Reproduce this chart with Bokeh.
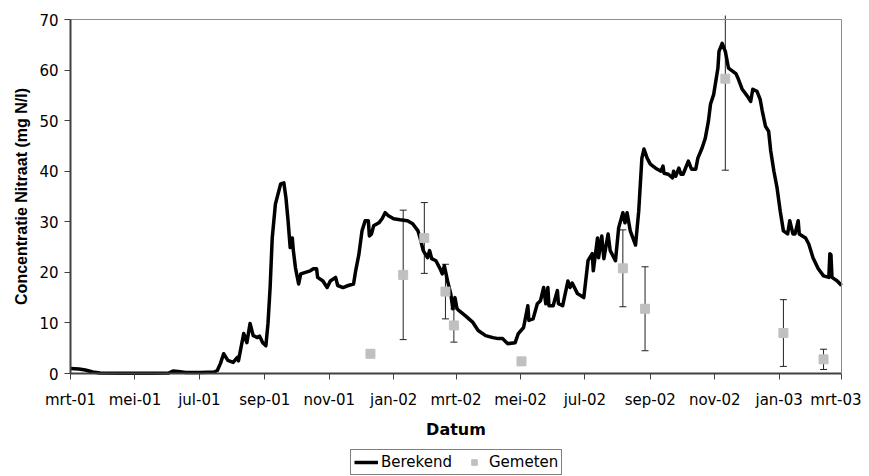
import pandas as pd
from bokeh.plotting import figure
from bokeh.models import (ColumnDataSource, FixedTicker, Whisker, TeeHead,
                          Legend, LegendItem, Range1d, LinearAxis)
from bokeh.embed import file_html
from bokeh.resources import INLINE

START = "2001-03-01"

# x-axis ticks
tick_dates = ["2001-03-01", "2001-05-01", "2001-07-01", "2001-09-01", "2001-11-01",
              "2002-01-01", "2002-03-01", "2002-05-01", "2002-07-01", "2002-09-01",
              "2002-11-01", "2003-01-01", "2003-03-01"]
tick_labels = ["mrt-01", "mei-01", "jul-01", "sep-01", "nov-01", "jan-02", "mrt-02",
               "mei-02", "jul-02", "sep-02", "nov-02", "jan-03", "mrt-03"]
y_ticks = [0, 10, 20, 30, 40, 50, 60, 70]
Y_MIN, Y_MAX = 0, 70

# Berekend (model): days since 1 March 2001 and concentration (mg N/l)
berekend_dag = [0, 8, 14, 21, 28, 47, 76, 93, 97, 102, 109, 123, 136, 139, 142, 145, 149,
                154, 158, 159, 164, 167, 170, 173, 177, 179, 182, 185, 187, 189, 191, 194,
                199, 202, 204, 206, 208, 210, 211, 213, 216, 218, 221, 227, 230, 233, 234,
                239, 243, 246, 251, 253, 258, 263, 268, 270, 273, 276, 279, 282, 283, 285,
                287, 292, 295, 298, 301, 306, 312, 319, 324, 329, 331, 334, 338, 340, 342,
                346, 350, 352, 354, 357, 360, 362, 364, 366, 367, 374, 381, 386, 393, 400,
                405, 409, 414, 421, 424, 429, 433, 434, 438, 442, 445, 448, 450, 452, 453,
                457, 461, 462, 466, 471, 473, 475, 480, 486, 490, 494, 495, 499, 500, 503,
                505, 509, 511, 516, 519, 523, 525, 527, 530, 535, 538, 541, 543, 546, 549,
                554, 559, 561, 562, 566, 570, 571, 573, 576, 578, 580, 585, 588, 592, 594,
                598, 601, 604, 606, 609, 613, 614, 617, 620, 623, 630, 632, 636, 641, 644,
                646, 650, 653, 655, 658, 661, 663, 666, 669, 672, 675, 679, 681, 684, 686,
                689, 690, 696, 699, 703, 708, 713, 718, 719, 720, 721, 726, 730]
berekend_val = [1.0, 0.9, 0.7, 0.3, 0.1, 0.05, 0.05, 0.1, 0.5, 0.4, 0.2, 0.2, 0.3, 0.6,
                2.0, 3.9, 2.6, 2.2, 3.2, 2.5, 7.9, 6.1, 9.9, 7.5, 7.1, 7.4, 6.1, 5.5, 9.9,
                17.0, 26.8, 33.5, 37.5, 37.7, 34.7, 30.2, 24.9, 26.8, 24.3, 20.9, 17.7, 19.7,
                19.9, 20.3, 20.7, 20.7, 19.0, 18.3, 17.0, 18.3, 19.0, 17.4, 17.0, 17.4, 17.7,
                20.3, 23.5, 28.2, 30.2, 30.2, 27.2, 27.6, 29.2, 29.8, 30.6, 31.8, 31.2, 30.6,
                30.4, 30.2, 29.6, 28.2, 26.8, 24.3, 22.9, 24.3, 22.7, 22.3, 20.7, 19.7, 21.3,
                18.3, 15.8, 12.8, 15.0, 12.8, 12.6, 11.4, 10.1, 8.5, 7.5, 7.1, 6.9, 6.9, 5.9,
                6.1, 7.9, 9.1, 13.4, 10.5, 10.8, 13.8, 14.4, 17.0, 13.8, 17.0, 13.4, 13.4,
                16.4, 13.8, 13.4, 18.3, 17.0, 17.9, 15.8, 15.0, 22.3, 23.7, 20.3, 26.8, 22.9,
                27.2, 22.7, 27.6, 24.3, 22.3, 28.8, 31.8, 29.8, 31.8, 28.2, 25.4, 32.1, 42.6,
                44.4, 42.6, 41.4, 40.6, 40.0, 41.0, 39.6, 39.4, 38.7, 40.0, 39.0, 40.6, 39.4,
                39.4, 42.0, 40.4, 40.4, 42.6, 44.6, 46.5, 49.9, 53.3, 55.2, 60.4, 63.7, 65.3,
                63.7, 60.4, 59.3, 58.4, 56.2, 54.8, 53.8, 56.2, 55.8, 54.2, 51.9, 48.9, 47.9,
                44.0, 40.0, 36.7, 32.1, 28.2, 27.6, 30.2, 27.6, 27.6, 30.2, 27.6, 26.8, 25.6,
                22.9, 20.7, 19.3, 19.0, 23.7, 23.5, 19.0, 18.3, 17.4]

# Gemeten (measured) with error margin
gemeten_datum = ["2001-12-10", "2002-01-10", "2002-01-30", "2002-02-19", "2002-02-27",
                 "2002-05-02", "2002-08-06", "2002-08-27", "2002-11-11", "2003-01-05",
                 "2003-02-12"]
gemeten_val = [3.9, 19.5, 26.8, 16.2, 9.5, 2.4, 20.8, 12.8, 58.3, 8.0, 2.8]
gemeten_fout = [0.7, 12.8, 7.0, 5.4, 3.3, 0.4, 7.6, 8.3, 18.1, 6.6, 2.0]

start = pd.Timestamp(START)
tick_x = [int((pd.Timestamp(d) - start).days) for d in tick_dates]
gem_x = [int((pd.Timestamp(d) - start).days) for d in gemeten_datum]
X_MIN, X_MAX = tick_x[0], tick_x[-1]

# ---- layout (pixels) ----
FONT = "DejaVu Sans"
W, H = 861, 476
PLOT_L, PLOT_R, PLOT_T, PLOT_B = 70, 841, 19, 373   # plot-area box inside the figure
kx = (X_MAX - X_MIN) / (PLOT_R - PLOT_L)
ky = (Y_MAX - Y_MIN) / (PLOT_B - PLOT_T)
x_range = Range1d(X_MIN - PLOT_L * kx, X_MAX + (W - PLOT_R) * kx)
y_range = Range1d(Y_MIN - (H - PLOT_B) * ky, Y_MAX + PLOT_T * ky)
CLIP_TOP = Y_MAX + 4 * ky      # error bars are cut just above the plot area

p = figure(width=W, height=H, output_backend="svg", toolbar_location=None,
           x_range=x_range, y_range=y_range,
           min_border_left=0, min_border_right=0, min_border_top=0,
           min_border_bottom=0)
p.background_fill_color = "white"
p.border_fill_color = "white"
p.outline_line_color = None
p.xgrid.visible = False
p.ygrid.visible = False

line_r = p.line(berekend_dag, berekend_val, line_color="black", line_width=3.5,
                line_join="round")

upper = [v + e for v, e in zip(gemeten_val, gemeten_fout)]
lower = [v - e for v, e in zip(gemeten_val, gemeten_fout)]
inside = [u <= Y_MAX for u in upper]
src_in = ColumnDataSource(dict(
    x=[x for x, k in zip(gem_x, inside) if k],
    upper=[u for u, k in zip(upper, inside) if k],
    lower=[l for l, k in zip(lower, inside) if k]))
src_cut = ColumnDataSource(dict(
    x=[x for x, k in zip(gem_x, inside) if not k],
    upper=[min(u, CLIP_TOP) for u, k in zip(upper, inside) if not k],
    lower=[l for l, k in zip(lower, inside) if not k]))
for s, has_top in ((src_in, True), (src_cut, False)):
    p.add_layout(Whisker(
        source=s, base="x", upper="upper", lower="lower", dimension="height",
        line_color="#222222", line_width=1,
        upper_head=TeeHead(size=7, line_color="#222222", line_width=1) if has_top else None,
        lower_head=TeeHead(size=7, line_color="#222222", line_width=1)))

src = ColumnDataSource(dict(x=gem_x, y=gemeten_val))
sq_r = p.scatter("x", "y", source=src, marker="square", size=9,
                 fill_color="#c0c0c0", line_color="#c0c0c0")

for ax in (p.xaxis[0], p.yaxis[0]):
    ax.axis_line_color = "#404040"
    ax.axis_line_width = 2
    ax.major_tick_line_color = "#404040"
    ax.major_tick_line_width = 1
    ax.major_tick_out = 6
    ax.major_tick_in = 0
    ax.minor_tick_out = 0
    ax.minor_tick_in = 0
    ax.major_label_text_font = FONT
    ax.major_label_text_font_size = "15px"
    ax.major_label_text_color = "black"
    ax.axis_label_text_font_style = "bold"
    ax.axis_label_text_color = "black"

p.xaxis.fixed_location = Y_MIN
p.xaxis.bounds = (X_MIN, X_MAX)
p.xaxis.ticker = FixedTicker(ticks=tick_x)
p.xaxis.major_label_overrides = {t: l for t, l in zip(tick_x, tick_labels)}
p.xaxis.axis_label = "Datum"
p.xaxis.axis_label_text_font = FONT
p.xaxis.axis_label_text_font_size = "16px"
p.xaxis.major_label_standoff = 11
p.xaxis.axis_label_standoff = 8

p.yaxis.fixed_location = X_MIN
p.yaxis.bounds = (Y_MIN, Y_MAX)
p.yaxis.ticker = FixedTicker(ticks=y_ticks)
p.yaxis.axis_label = "Concentratie Nitraat (mg N/l)"
p.yaxis.axis_label_text_font = "Liberation Sans"
p.yaxis.axis_label_text_font_size = "16px"
p.yaxis.major_label_standoff = 6
p.yaxis.axis_label_standoff = 6

# grey plot-area border on top and right
border = dict(ticker=FixedTicker(ticks=[]), axis_line_color="#8c8c8c",
              axis_line_width=1, major_tick_out=0, major_tick_in=0,
              minor_tick_out=0, minor_tick_in=0)
p.add_layout(LinearAxis(fixed_location=Y_MAX, bounds=(X_MIN, X_MAX), **border), "above")
p.add_layout(LinearAxis(fixed_location=X_MAX, bounds=(Y_MIN, Y_MAX), **border), "right")

legend = Legend(items=[LegendItem(label="Berekend", renderers=[line_r]),
                       LegendItem(label="Gemeten", renderers=[sq_r])],
                orientation="horizontal", location=(350, 1))
legend.label_text_font = FONT
legend.label_text_font_size = "15px"
legend.label_text_color = "black"
legend.border_line_color = "black"
legend.border_line_width = 1
legend.padding = 3
legend.spacing = 10
legend.margin = 0
legend.glyph_width = 24
legend.glyph_height = 14
legend.label_standoff = 3
legend.label_height = 14
legend.background_fill_alpha = 1
p.add_layout(legend)

open("out.html", "w").write(file_html(p, INLINE))
